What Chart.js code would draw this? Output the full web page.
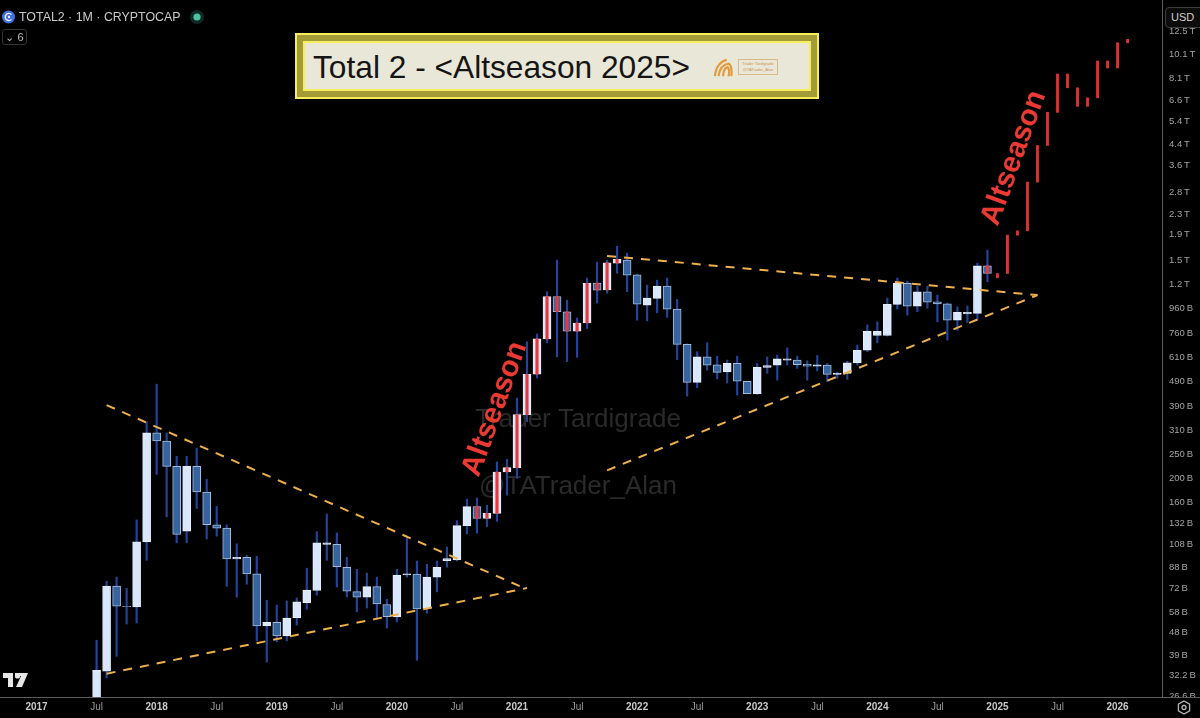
<!DOCTYPE html>
<html>
<head>
<meta charset="utf-8">
<title>Total 2</title>
<script src="https://cdn.jsdelivr.net/npm/chart.js@4/dist/chart.umd.min.js"></script>
<style>
  html, body { margin: 0; padding: 0; background: #000; }
  #wrap { position: relative; width: 1200px; height: 718px; overflow: hidden; font-family: "Liberation Sans", sans-serif; }
  canvas { position: absolute; left: 0; top: 0; }
  .abs { position: absolute; }
  #symbol { left: 19px; top: 10px; font-size: 12.4px; color: #c9c9c9; white-space: nowrap; }
  #usd { left: 1165px; top: 7px; width: 40px; height: 19px; border: 1px solid #3c3c3c; border-radius: 4px; background: #0c0c0c; color: #cfcfcf; font-size: 11px; line-height: 19px; padding-left: 5px; }
  #indicators { left: 2px; top: 29px; width: 23px; height: 14px; border: 1px solid #333; border-radius: 3px; color: #bbb; font-size: 11px; line-height: 14px; text-align: center; }
  #foot { left: 1163px; top: 698px; width: 37px; height: 20px; background: #000; }
  #rule { left: 1163px; top: 697px; width: 37px; height: 1px; background: #5c5c5c; }
  #title { left: 295px; top: 33px; width: 524px; height: 66px; box-sizing: border-box; background: #e9e8d8; border: 2px solid #f7ee5e; box-shadow: inset 0 0 0 6px #a39b36, inset 0 0 0 8px #f7ee5e; }
  #titleText { left: 16px; top: 14px; font-size: 31.7px; color: #151515; white-space: nowrap; }
  #tag { left: 441px; top: 24px; width: 40px; height: 16px; border: 1px solid #d9b98a; color: #c9924a; font-size: 4px; line-height: 6px; text-align: center; padding-top: 1px; box-sizing: border-box; white-space: nowrap; }
</style>
</head>
<body>
<div id="wrap">
  <canvas id="chart" width="1200" height="718"></canvas>

  <svg class="abs" style="left:2px;top:10px" width="13" height="14" viewBox="0 0 13 14">
    <circle cx="6.5" cy="7" r="6.5" fill="#3e6fe6"/>
    <path d="M9.5 4.6a3.6 3.6 0 1 0 0 4.8" fill="none" stroke="#e8eeff" stroke-width="1.4"/>
    <circle cx="7" cy="7" r="1.2" fill="#e8eeff"/>
  </svg>
  <div id="symbol" class="abs">TOTAL2 · 1M · CRYPTOCAP</div>
  <svg class="abs" style="left:190px;top:10px" width="14" height="14"><circle cx="7" cy="7" r="7" fill="#0f2a25"/><circle cx="7" cy="7" r="3.6" fill="#4cc2a0"/></svg>
  <div id="indicators" class="abs">⌄ 6</div>
  <div id="usd" class="abs">USD</div>

  <div id="title" class="abs">
    <div id="titleText" class="abs">Total 2 - &lt;Altseason 2025&gt;</div>
    <svg class="abs" style="left:415px;top:23px" width="24" height="20" viewBox="0 0 24 22">
      <g fill="none" stroke="#e39a3c" stroke-width="2.4">
        <path d="M2 20C3 9 9 3 15 2"/>
        <path d="M6 20C7 12 11 7 17 6c3 1 4 8 3 14"/>
        <path d="M11 20c0-6 2-9 5-10 2 2 2 6 1 10"/>
      </g>
    </svg>
    <div id="tag" class="abs">Trader Tardigrade<br>@TATrader_Alan</div>
  </div>

  <svg class="abs" style="left:3px;top:673px" width="25" height="14" viewBox="0 0 25 14">
    <path d="M0 0h10v14H5V5H0zM12 0h13l-6 14h-6l5-11h-6z" fill="#e6e6e6"/>
    <circle cx="14.5" cy="3" r="2.6" fill="#e6e6e6"/>
  </svg>

  <div id="rule" class="abs"></div>
  <div id="foot" class="abs"></div>
  <svg class="abs" style="left:1177px;top:700px" width="14" height="15" viewBox="0 0 14 15">
    <path d="M7 1l5.6 3.2v6.6L7 14l-5.6-3.2V4.200z" fill="none" stroke="#b5b5b5" stroke-width="1.3"/>
    <circle cx="7" cy="7.500" r="2" fill="none" stroke="#b5b5b5" stroke-width="1.3"/>
  </svg>
</div>

<script>
// values in billions of USD
const months = [
  '2017-07','2017-08','2017-09','2017-10','2017-11','2017-12',
  '2018-01','2018-02','2018-03','2018-04','2018-05','2018-06','2018-07','2018-08','2018-09','2018-10','2018-11','2018-12',
  '2019-01','2019-02','2019-03','2019-04','2019-05','2019-06','2019-07','2019-08','2019-09','2019-10','2019-11','2019-12',
  '2020-01','2020-02','2020-03','2020-04','2020-05','2020-06','2020-07','2020-08','2020-09','2020-10','2020-11','2020-12',
  '2021-01','2021-02','2021-03','2021-04','2021-05','2021-06','2021-07','2021-08','2021-09','2021-10','2021-11','2021-12',
  '2022-01','2022-02','2022-03','2022-04','2022-05','2022-06','2022-07','2022-08','2022-09','2022-10','2022-11','2022-12',
  '2023-01','2023-02','2023-03','2023-04','2023-05','2023-06','2023-07','2023-08','2023-09','2023-10','2023-11','2023-12',
  '2024-01','2024-02','2024-03','2024-04','2024-05','2024-06','2024-07','2024-08','2024-09','2024-10','2024-11','2024-12'
];
const opens = [
  21.3,33.6,73.7,61.2,60.8,111,
  304,282,223,122.5,223,176,130,126,94.8,96.2,82.5,51,
  52.7,46.5,55.1,63.3,70.8,108.5,108.5,87.8,70.1,66.5,73.4,62.2,
  55.4,81.7,82.3,60,80.1,93.3,94,129,153.7,138,144.5,211.8,
  220.4,360,523,725,1073,932,779,840,1214,1141,1461,1502,
  1311,991,1054,1181,955,689,485,614,571,534,578,490,
  437,557,569,596,596,573,564,569,522,527,580,653,
  748,748,997,1211,982,1121,1022,1002,862,914,918,1424
];
const highs = [
  44.7,77.1,80.1,72.3,136,337,
  477,304,245,245,264,198,154,130,109,98,97.2,64.7,
  61.8,64.3,66,87,122,143.6,120.6,96.2,86.1,83.1,80,65.3,
  86.1,117,93,90.2,93,105.9,135,164.7,166.5,155.7,232.5,238,
  419,706,758,1121,1502,1038,879,1272,1475,1502,1709,1603,
  1319,1192,1248,1272,1045,692,644,700,618,596,618,490,
  578,614,624,667,618,592,622,578,533,590,685,825,
  849,1057,1272,1237,1181,1181,1087,1010,975,982,1461,1648
];
const lows = [
  20.3,31.5,38.5,51.9,52.4,93.6,
  207,140,110,110,151,114,117,73.6,66.5,75,44.4,36.5,
  44,44.4,51.4,59.5,67.8,93.6,73.1,66.7,58.1,60.2,54.8,50,
  53,80.1,37.1,57.4,69.9,87.8,93,119.5,120.3,127.8,134,171,
  199.7,337,505.5,699,614,587,611,798,1010,1107,1332,1121,
  862,856,922,885,599,427,462,543,500,482,431,437,
  434,527,495,569,552,495,539,488,504,499,569,644,
  699,744,955,903,932,964,849,717,786,844,868,1229
];
const closes = [
  33.8,73.7,61.2,60.9,111,304,
  282,223,119,223,176,130,126,94.8,96.2,82.5,51,52.7,
  46.5,54.9,63.7,71,110,110,88.3,70.4,66.5,73.4,62.5,55.6,
  81.7,82.5,59.7,80.1,87.8,95.1,128.9,153.7,138,144.5,211.8,220.4,
  360,523,725,1073,932,779,840,1211,1138,1465,1513,1307,
  1000,1057,1181,955,689,485,614,569,532,578,490,437,
  557,567,603,603,571,564,571,522,529,581,653,777,
  777,997,1211,982,1121,1019,1002,862,926,926,1424,1328
];

// months with the red stripe drawn through the candle body
const stripeMonths = [
  '2020-09','2020-10','2020-11','2020-12',
  '2021-01','2021-02','2021-03','2021-04','2021-05','2021-06','2021-07','2021-08','2021-09','2021-10','2021-11',
  '2024-12'
];

// projected path, red bars only
const forecastMonths = ['2025-01','2025-02','2025-03','2025-04','2025-05','2025-06','2025-07','2025-08','2025-09','2025-10','2025-11','2025-12','2026-01','2026-02'];
const forecastStart = [1328,1328,1893,1970,3091,4338,5890,8397,7393,6224,6739,9469,8877,11210];
const forecastEnd = [1275,1893,1970,3091,4338,5890,8397,7393,6224,6739,9469,8877,11210,11572];

// hand drawn trend lines: [month, value]
const wedge1Upper = [['2017-08', 393], ['2021-02', 71.6]];
const wedge1Lower = [['2017-08', 32.8], ['2021-02', 72.4]];
const wedge2Upper = [['2021-10', 1562], ['2025-05', 1087]];
const wedge2Lower = [['2021-10', 215], ['2025-05', 1087]];

const priceTicks = [12500,10100,8100,6600,5400,4400,3600,2800,2300,1900,1500,1200,960,760,610,490,390,310,250,200,160,132,108,88,72,58,48,39,32.2,26.6];
const priceLabels = ['12.5\u2009T','10.1\u2009T','8.1\u2009T','6.6\u2009T','5.4\u2009T','4.4\u2009T','3.6\u2009T','2.8\u2009T','2.3\u2009T','1.9\u2009T','1.5\u2009T','1.2\u2009T','960\u2009B','760\u2009B','610\u2009B','490\u2009B','390\u2009B','310\u2009B','250\u2009B','200\u2009B','160\u2009B','132\u2009B','108\u2009B','88\u2009B','72\u2009B','58\u2009B','48\u2009B','39\u2009B','32.2\u2009B','26.6\u2009B'];
const timeTicks = [0,6,12,18,24,30,36,42,48,54,60,66,72,78,84,90,96,102,108];
const timeLabels = ['2017','Jul','2018','Jul','2019','Jul','2020','Jul','2021','Jul','2022','Jul','2023','Jul','2024','Jul','2025','Jul','2026'];

// months since Jan 2017
const toX = (m) => {
  const [y, mo] = m.split('-').map(Number);
  return (y - 2017) * 12 + (mo - 1);
};
const lineData = (pts) => pts.map(([m, v]) => ({ x: toX(m), y: v }));

const wicks = months.map((m, i) => ({ x: toX(m), y: [lows[i], highs[i]] }));
const bodies = months.map((m, i) => ({ x: toX(m), y: [opens[i], closes[i]] }));
const stripes = stripeMonths.map((m) => {
  const i = months.indexOf(m);
  return { x: toX(m), y: [opens[i], closes[i]] };
});
const forecast = forecastMonths.map((m, i) => ({ x: toX(m), y: [forecastStart[i], forecastEnd[i]] }));

const isUp = (i) => closes[i] >= opens[i];

const trend = (pts) => ({
  type: 'line',
  data: lineData(pts),
  borderColor: '#edb04c',
  borderWidth: 2,
  borderDash: [9, 8],
  pointRadius: 0,
  tension: 0,
  order: 5
});

// watermark goes under the candles, the red captions on top of them
const captions = {
  id: 'captions',
  beforeDatasetsDraw(chart) {
    const c = chart.ctx;
    c.save();
    c.fillStyle = '#2a2a2a';
    c.textAlign = 'center';
    c.textBaseline = 'middle';
    c.font = '26px "Liberation Sans"';
    c.fillText('Trader Tardigrade', 578, 420);
    c.fillText('@TATrader_Alan', 578, 487);
    c.restore();
  },
  afterDatasetsDraw(chart) {
    const c = chart.ctx;
    const put = (x, y) => {
      c.save();
      c.translate(x, y);
      c.rotate(-70 * Math.PI / 180);
      c.fillStyle = '#ea3a33';
      c.font = 'bold 29.5px "Liberation Sans"';
      c.textAlign = 'center';
      c.textBaseline = 'middle';
      c.fillText('Altseason', 0, 0);
      c.restore();
    };
    put(495, 409);
    put(1014, 158);
  }
};

new Chart(document.getElementById('chart'), {
  type: 'bar',
  data: {
    datasets: [
      { data: wicks, backgroundColor: '#23439c', barThickness: 1.5, grouped: false, order: 40 },
      {
        data: bodies,
        backgroundColor: (ctx) => isUp(ctx.dataIndex) ? '#d8e7fc' : '#37639f',
        borderColor: (ctx) => isUp(ctx.dataIndex) ? '#e6effd' : '#a4bcdd',
        borderWidth: 1,
        borderSkipped: false,
        barThickness: 8,
        grouped: false,
        order: 30
      },
      { data: stripes, backgroundColor: '#e8383a', barThickness: 2.5, grouped: false, order: 20 },
      { data: forecast, backgroundColor: '#e0302f', barThickness: 2.2, grouped: false, order: 20 },
      trend(wedge1Upper),
      trend(wedge1Lower),
      trend(wedge2Upper),
      trend(wedge2Lower)
    ]
  },
  plugins: [captions],
  options: {
    responsive: false,
    animation: false,
    layout: { padding: 0, autoPadding: false },
    plugins: { legend: { display: false }, tooltip: { enabled: false } },
    scales: {
      x: {
        type: 'linear',
        offset: false,
        min: -3.65,
        max: 112.44,
        grid: { display: false, drawTicks: false },
        border: { display: true, color: '#5c5c5c' },
        afterBuildTicks: (s) => { s.ticks = timeTicks.map((v) => ({ value: v })); },
        afterFit: (s) => { s.height = 21; s.paddingLeft = 0; s.paddingRight = 0; },
        ticks: {
          autoSkip: false,
          maxRotation: 0,
          padding: 4,
          callback: (v, i) => timeLabels[i],
          color: (ctx) => ctx.index % 2 ? '#9a9a9a' : '#c9c9c9',
          font: (ctx) => ({ family: 'Liberation Sans', size: 10, weight: ctx.index % 2 ? 'normal' : 'bold' })
        }
      },
      y: {
        type: 'logarithmic',
        position: 'right',
        min: 26.44,
        max: 16646,
        grid: { display: false, drawTicks: false },
        border: { display: true, color: '#5c5c5c' },
        afterBuildTicks: (s) => { s.ticks = priceTicks.map((v) => ({ value: v })); },
        afterFit: (s) => { s.width = 38; s.paddingTop = 0; s.paddingBottom = 0; },
        ticks: {
          autoSkip: false,
          padding: 7,
          callback: (v, i) => priceLabels[i],
          color: '#a3a3a3',
          font: { family: 'Liberation Sans', size: 9.5 }
        }
      }
    }
  }
});
</script>
</body>
</html>
